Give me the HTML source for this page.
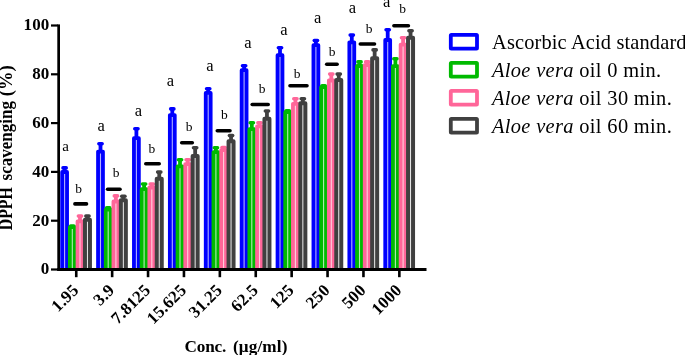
<!DOCTYPE html>
<html><head><meta charset="utf-8"><title>DPPH scavenging</title>
<style>
html,body{margin:0;padding:0;background:#fff;}
body{width:685px;height:355px;overflow:hidden;}
svg{display:block;will-change:transform;}
text{font-family:"Liberation Serif","Times New Roman",serif;fill:#000;}
.tk{font-weight:bold;font-size:17px;letter-spacing:0.15px;}
.ti{font-weight:bold;font-size:17.8px;}
.lt{}
.lg{font-size:20.4px;letter-spacing:0.35px;}
</style></head><body>
<svg width="685" height="355" viewBox="0 0 685 355">
<rect width="685" height="355" fill="#fff"/>
<clipPath id="cp"><rect x="0" y="0" width="685" height="269.5"/></clipPath><g clip-path="url(#cp)">
<line x1="64.60" y1="167.90" x2="64.60" y2="172.10" stroke="#0000ff" stroke-width="3.8"/>
<line x1="63.00" y1="167.90" x2="66.20" y2="167.90" stroke="#0000ff" stroke-width="3.6" stroke-linecap="round"/>
<rect x="62.15" y="172.00" width="4.90" height="99.40" fill="#b0b0ff" stroke="#0000ff" stroke-width="3.8" stroke-linejoin="round"/>
<line x1="72.30" y1="226.00" x2="72.30" y2="227.30" stroke="#00ba00" stroke-width="3.8"/>
<line x1="70.70" y1="226.00" x2="73.90" y2="226.00" stroke="#00ba00" stroke-width="3.6" stroke-linecap="round"/>
<rect x="69.85" y="227.20" width="4.90" height="44.20" fill="#b4eab4" stroke="#00ba00" stroke-width="3.8" stroke-linejoin="round"/>
<line x1="80.00" y1="216.10" x2="80.00" y2="221.40" stroke="#ff6699" stroke-width="3.8"/>
<line x1="78.40" y1="216.10" x2="81.60" y2="216.10" stroke="#ff6699" stroke-width="3.6" stroke-linecap="round"/>
<rect x="77.55" y="221.30" width="4.90" height="50.10" fill="#ffd0de" stroke="#ff6699" stroke-width="3.8" stroke-linejoin="round"/>
<line x1="87.45" y1="216.10" x2="87.45" y2="219.70" stroke="#404040" stroke-width="3.8"/>
<line x1="85.85" y1="216.10" x2="89.05" y2="216.10" stroke="#404040" stroke-width="3.6" stroke-linecap="round"/>
<rect x="84.95" y="219.70" width="5.00" height="51.80" fill="#ececec" stroke="#404040" stroke-width="4.0" stroke-linejoin="round"/>
<line x1="100.50" y1="143.80" x2="100.50" y2="151.70" stroke="#0000ff" stroke-width="3.8"/>
<line x1="98.90" y1="143.80" x2="102.10" y2="143.80" stroke="#0000ff" stroke-width="3.6" stroke-linecap="round"/>
<rect x="98.05" y="151.60" width="4.90" height="119.80" fill="#b0b0ff" stroke="#0000ff" stroke-width="3.8" stroke-linejoin="round"/>
<line x1="108.20" y1="207.90" x2="108.20" y2="209.80" stroke="#00ba00" stroke-width="3.8"/>
<line x1="106.60" y1="207.90" x2="109.80" y2="207.90" stroke="#00ba00" stroke-width="3.6" stroke-linecap="round"/>
<rect x="105.75" y="209.70" width="4.90" height="61.70" fill="#b4eab4" stroke="#00ba00" stroke-width="3.8" stroke-linejoin="round"/>
<line x1="115.90" y1="195.90" x2="115.90" y2="201.60" stroke="#ff6699" stroke-width="3.8"/>
<line x1="114.30" y1="195.90" x2="117.50" y2="195.90" stroke="#ff6699" stroke-width="3.6" stroke-linecap="round"/>
<rect x="113.45" y="201.50" width="4.90" height="69.90" fill="#ffd0de" stroke="#ff6699" stroke-width="3.8" stroke-linejoin="round"/>
<line x1="123.35" y1="196.30" x2="123.35" y2="200.30" stroke="#404040" stroke-width="3.8"/>
<line x1="121.75" y1="196.30" x2="124.95" y2="196.30" stroke="#404040" stroke-width="3.6" stroke-linecap="round"/>
<rect x="120.85" y="200.30" width="5.00" height="71.20" fill="#ececec" stroke="#404040" stroke-width="4.0" stroke-linejoin="round"/>
<line x1="136.40" y1="128.80" x2="136.40" y2="138.30" stroke="#0000ff" stroke-width="3.8"/>
<line x1="134.80" y1="128.80" x2="138.00" y2="128.80" stroke="#0000ff" stroke-width="3.6" stroke-linecap="round"/>
<rect x="133.95" y="138.20" width="4.90" height="133.20" fill="#b0b0ff" stroke="#0000ff" stroke-width="3.8" stroke-linejoin="round"/>
<line x1="144.10" y1="184.00" x2="144.10" y2="189.30" stroke="#00ba00" stroke-width="3.8"/>
<line x1="142.50" y1="184.00" x2="145.70" y2="184.00" stroke="#00ba00" stroke-width="3.6" stroke-linecap="round"/>
<rect x="141.65" y="189.20" width="4.90" height="82.20" fill="#b4eab4" stroke="#00ba00" stroke-width="3.8" stroke-linejoin="round"/>
<line x1="151.80" y1="184.00" x2="151.80" y2="187.60" stroke="#ff6699" stroke-width="3.8"/>
<line x1="150.20" y1="184.00" x2="153.40" y2="184.00" stroke="#ff6699" stroke-width="3.6" stroke-linecap="round"/>
<rect x="149.35" y="187.50" width="4.90" height="83.90" fill="#ffd0de" stroke="#ff6699" stroke-width="3.8" stroke-linejoin="round"/>
<line x1="159.25" y1="172.10" x2="159.25" y2="178.80" stroke="#404040" stroke-width="3.8"/>
<line x1="157.65" y1="172.10" x2="160.85" y2="172.10" stroke="#404040" stroke-width="3.6" stroke-linecap="round"/>
<rect x="156.75" y="178.80" width="5.00" height="92.70" fill="#ececec" stroke="#404040" stroke-width="4.0" stroke-linejoin="round"/>
<line x1="172.30" y1="108.90" x2="172.30" y2="115.20" stroke="#0000ff" stroke-width="3.8"/>
<line x1="170.70" y1="108.90" x2="173.90" y2="108.90" stroke="#0000ff" stroke-width="3.6" stroke-linecap="round"/>
<rect x="169.85" y="115.10" width="4.90" height="156.30" fill="#b0b0ff" stroke="#0000ff" stroke-width="3.8" stroke-linejoin="round"/>
<line x1="180.00" y1="159.80" x2="180.00" y2="166.50" stroke="#00ba00" stroke-width="3.8"/>
<line x1="178.40" y1="159.80" x2="181.60" y2="159.80" stroke="#00ba00" stroke-width="3.6" stroke-linecap="round"/>
<rect x="177.55" y="166.40" width="4.90" height="105.00" fill="#b4eab4" stroke="#00ba00" stroke-width="3.8" stroke-linejoin="round"/>
<line x1="187.70" y1="159.80" x2="187.70" y2="164.20" stroke="#ff6699" stroke-width="3.8"/>
<line x1="186.10" y1="159.80" x2="189.30" y2="159.80" stroke="#ff6699" stroke-width="3.6" stroke-linecap="round"/>
<rect x="185.25" y="164.10" width="4.90" height="107.30" fill="#ffd0de" stroke="#ff6699" stroke-width="3.8" stroke-linejoin="round"/>
<line x1="195.15" y1="147.80" x2="195.15" y2="155.90" stroke="#404040" stroke-width="3.8"/>
<line x1="193.55" y1="147.80" x2="196.75" y2="147.80" stroke="#404040" stroke-width="3.6" stroke-linecap="round"/>
<rect x="192.65" y="155.90" width="5.00" height="115.60" fill="#ececec" stroke="#404040" stroke-width="4.0" stroke-linejoin="round"/>
<line x1="208.20" y1="88.80" x2="208.20" y2="93.00" stroke="#0000ff" stroke-width="3.8"/>
<line x1="206.60" y1="88.80" x2="209.80" y2="88.80" stroke="#0000ff" stroke-width="3.6" stroke-linecap="round"/>
<rect x="205.75" y="92.90" width="4.90" height="178.50" fill="#b0b0ff" stroke="#0000ff" stroke-width="3.8" stroke-linejoin="round"/>
<line x1="215.90" y1="147.80" x2="215.90" y2="152.30" stroke="#00ba00" stroke-width="3.8"/>
<line x1="214.30" y1="147.80" x2="217.50" y2="147.80" stroke="#00ba00" stroke-width="3.6" stroke-linecap="round"/>
<rect x="213.45" y="152.20" width="4.90" height="119.20" fill="#b4eab4" stroke="#00ba00" stroke-width="3.8" stroke-linejoin="round"/>
<line x1="223.60" y1="147.50" x2="223.60" y2="150.30" stroke="#ff6699" stroke-width="3.8"/>
<line x1="222.00" y1="147.50" x2="225.20" y2="147.50" stroke="#ff6699" stroke-width="3.6" stroke-linecap="round"/>
<rect x="221.15" y="150.20" width="4.90" height="121.20" fill="#ffd0de" stroke="#ff6699" stroke-width="3.8" stroke-linejoin="round"/>
<line x1="231.05" y1="135.60" x2="231.05" y2="141.30" stroke="#404040" stroke-width="3.8"/>
<line x1="229.45" y1="135.60" x2="232.65" y2="135.60" stroke="#404040" stroke-width="3.6" stroke-linecap="round"/>
<rect x="228.55" y="141.30" width="5.00" height="130.20" fill="#ececec" stroke="#404040" stroke-width="4.0" stroke-linejoin="round"/>
<line x1="244.10" y1="65.80" x2="244.10" y2="70.30" stroke="#0000ff" stroke-width="3.8"/>
<line x1="242.50" y1="65.80" x2="245.70" y2="65.80" stroke="#0000ff" stroke-width="3.6" stroke-linecap="round"/>
<rect x="241.65" y="70.20" width="4.90" height="201.20" fill="#b0b0ff" stroke="#0000ff" stroke-width="3.8" stroke-linejoin="round"/>
<line x1="251.80" y1="122.80" x2="251.80" y2="129.30" stroke="#00ba00" stroke-width="3.8"/>
<line x1="250.20" y1="122.80" x2="253.40" y2="122.80" stroke="#00ba00" stroke-width="3.6" stroke-linecap="round"/>
<rect x="249.35" y="129.20" width="4.90" height="142.20" fill="#b4eab4" stroke="#00ba00" stroke-width="3.8" stroke-linejoin="round"/>
<line x1="259.50" y1="122.80" x2="259.50" y2="126.50" stroke="#ff6699" stroke-width="3.8"/>
<line x1="257.90" y1="122.80" x2="261.10" y2="122.80" stroke="#ff6699" stroke-width="3.6" stroke-linecap="round"/>
<rect x="257.05" y="126.40" width="4.90" height="145.00" fill="#ffd0de" stroke="#ff6699" stroke-width="3.8" stroke-linejoin="round"/>
<line x1="266.95" y1="111.00" x2="266.95" y2="118.80" stroke="#404040" stroke-width="3.8"/>
<line x1="265.35" y1="111.00" x2="268.55" y2="111.00" stroke="#404040" stroke-width="3.6" stroke-linecap="round"/>
<rect x="264.45" y="118.80" width="5.00" height="152.70" fill="#ececec" stroke="#404040" stroke-width="4.0" stroke-linejoin="round"/>
<line x1="280.00" y1="47.80" x2="280.00" y2="55.30" stroke="#0000ff" stroke-width="3.8"/>
<line x1="278.40" y1="47.80" x2="281.60" y2="47.80" stroke="#0000ff" stroke-width="3.6" stroke-linecap="round"/>
<rect x="277.55" y="55.20" width="4.90" height="216.20" fill="#b0b0ff" stroke="#0000ff" stroke-width="3.8" stroke-linejoin="round"/>
<line x1="287.70" y1="110.80" x2="287.70" y2="112.30" stroke="#00ba00" stroke-width="3.8"/>
<line x1="286.10" y1="110.80" x2="289.30" y2="110.80" stroke="#00ba00" stroke-width="3.6" stroke-linecap="round"/>
<rect x="285.25" y="112.20" width="4.90" height="159.20" fill="#b4eab4" stroke="#00ba00" stroke-width="3.8" stroke-linejoin="round"/>
<line x1="295.40" y1="98.80" x2="295.40" y2="103.90" stroke="#ff6699" stroke-width="3.8"/>
<line x1="293.80" y1="98.80" x2="297.00" y2="98.80" stroke="#ff6699" stroke-width="3.6" stroke-linecap="round"/>
<rect x="292.95" y="103.80" width="4.90" height="167.60" fill="#ffd0de" stroke="#ff6699" stroke-width="3.8" stroke-linejoin="round"/>
<line x1="302.85" y1="98.80" x2="302.85" y2="103.20" stroke="#404040" stroke-width="3.8"/>
<line x1="301.25" y1="98.80" x2="304.45" y2="98.80" stroke="#404040" stroke-width="3.6" stroke-linecap="round"/>
<rect x="300.35" y="103.20" width="5.00" height="168.30" fill="#ececec" stroke="#404040" stroke-width="4.0" stroke-linejoin="round"/>
<line x1="315.90" y1="40.60" x2="315.90" y2="45.30" stroke="#0000ff" stroke-width="3.8"/>
<line x1="314.30" y1="40.60" x2="317.50" y2="40.60" stroke="#0000ff" stroke-width="3.6" stroke-linecap="round"/>
<rect x="313.45" y="45.20" width="4.90" height="226.20" fill="#b0b0ff" stroke="#0000ff" stroke-width="3.8" stroke-linejoin="round"/>
<line x1="323.60" y1="85.80" x2="323.60" y2="87.30" stroke="#00ba00" stroke-width="3.8"/>
<line x1="322.00" y1="85.80" x2="325.20" y2="85.80" stroke="#00ba00" stroke-width="3.6" stroke-linecap="round"/>
<rect x="321.15" y="87.20" width="4.90" height="184.20" fill="#b4eab4" stroke="#00ba00" stroke-width="3.8" stroke-linejoin="round"/>
<line x1="331.30" y1="74.10" x2="331.30" y2="80.60" stroke="#ff6699" stroke-width="3.8"/>
<line x1="329.70" y1="74.10" x2="332.90" y2="74.10" stroke="#ff6699" stroke-width="3.6" stroke-linecap="round"/>
<rect x="328.85" y="80.50" width="4.90" height="190.90" fill="#ffd0de" stroke="#ff6699" stroke-width="3.8" stroke-linejoin="round"/>
<line x1="338.75" y1="74.10" x2="338.75" y2="80.00" stroke="#404040" stroke-width="3.8"/>
<line x1="337.15" y1="74.10" x2="340.35" y2="74.10" stroke="#404040" stroke-width="3.6" stroke-linecap="round"/>
<rect x="336.25" y="80.00" width="5.00" height="191.50" fill="#ececec" stroke="#404040" stroke-width="4.0" stroke-linejoin="round"/>
<line x1="351.80" y1="35.10" x2="351.80" y2="42.40" stroke="#0000ff" stroke-width="3.8"/>
<line x1="350.20" y1="35.10" x2="353.40" y2="35.10" stroke="#0000ff" stroke-width="3.6" stroke-linecap="round"/>
<rect x="349.35" y="42.30" width="4.90" height="229.10" fill="#b0b0ff" stroke="#0000ff" stroke-width="3.8" stroke-linejoin="round"/>
<line x1="359.50" y1="61.90" x2="359.50" y2="66.10" stroke="#00ba00" stroke-width="3.8"/>
<line x1="357.90" y1="61.90" x2="361.10" y2="61.90" stroke="#00ba00" stroke-width="3.6" stroke-linecap="round"/>
<rect x="357.05" y="66.00" width="4.90" height="205.40" fill="#b4eab4" stroke="#00ba00" stroke-width="3.8" stroke-linejoin="round"/>
<line x1="367.20" y1="61.90" x2="367.20" y2="65.30" stroke="#ff6699" stroke-width="3.8"/>
<line x1="365.60" y1="61.90" x2="368.80" y2="61.90" stroke="#ff6699" stroke-width="3.6" stroke-linecap="round"/>
<rect x="364.75" y="65.20" width="4.90" height="206.20" fill="#ffd0de" stroke="#ff6699" stroke-width="3.8" stroke-linejoin="round"/>
<line x1="374.65" y1="49.90" x2="374.65" y2="58.20" stroke="#404040" stroke-width="3.8"/>
<line x1="373.05" y1="49.90" x2="376.25" y2="49.90" stroke="#404040" stroke-width="3.6" stroke-linecap="round"/>
<rect x="372.15" y="58.20" width="5.00" height="213.30" fill="#ececec" stroke="#404040" stroke-width="4.0" stroke-linejoin="round"/>
<line x1="387.70" y1="29.80" x2="387.70" y2="40.10" stroke="#0000ff" stroke-width="3.8"/>
<line x1="386.10" y1="29.80" x2="389.30" y2="29.80" stroke="#0000ff" stroke-width="3.6" stroke-linecap="round"/>
<rect x="385.25" y="40.00" width="4.90" height="231.40" fill="#b0b0ff" stroke="#0000ff" stroke-width="3.8" stroke-linejoin="round"/>
<line x1="395.40" y1="58.70" x2="395.40" y2="66.30" stroke="#00ba00" stroke-width="3.8"/>
<line x1="393.80" y1="58.70" x2="397.00" y2="58.70" stroke="#00ba00" stroke-width="3.6" stroke-linecap="round"/>
<rect x="392.95" y="66.20" width="4.90" height="205.20" fill="#b4eab4" stroke="#00ba00" stroke-width="3.8" stroke-linejoin="round"/>
<line x1="403.10" y1="37.80" x2="403.10" y2="44.70" stroke="#ff6699" stroke-width="3.8"/>
<line x1="401.50" y1="37.80" x2="404.70" y2="37.80" stroke="#ff6699" stroke-width="3.6" stroke-linecap="round"/>
<rect x="400.65" y="44.60" width="4.90" height="226.80" fill="#ffd0de" stroke="#ff6699" stroke-width="3.8" stroke-linejoin="round"/>
<line x1="410.55" y1="30.80" x2="410.55" y2="37.70" stroke="#404040" stroke-width="3.8"/>
<line x1="408.95" y1="30.80" x2="412.15" y2="30.80" stroke="#404040" stroke-width="3.6" stroke-linecap="round"/>
<rect x="408.05" y="37.70" width="5.00" height="233.80" fill="#ececec" stroke="#404040" stroke-width="4.0" stroke-linejoin="round"/>
</g>
<line x1="74.90" y1="203.90" x2="86.50" y2="203.90" stroke="#000" stroke-width="3.6" stroke-linecap="round"/>
<line x1="107.60" y1="189.20" x2="120.00" y2="189.20" stroke="#000" stroke-width="3.6" stroke-linecap="round"/>
<line x1="145.80" y1="163.80" x2="159.20" y2="163.80" stroke="#000" stroke-width="3.6" stroke-linecap="round"/>
<line x1="181.70" y1="142.80" x2="192.30" y2="142.80" stroke="#000" stroke-width="3.6" stroke-linecap="round"/>
<line x1="217.30" y1="130.80" x2="230.00" y2="130.80" stroke="#000" stroke-width="3.6" stroke-linecap="round"/>
<line x1="252.20" y1="104.50" x2="268.20" y2="104.50" stroke="#000" stroke-width="3.6" stroke-linecap="round"/>
<line x1="290.00" y1="85.70" x2="307.00" y2="85.70" stroke="#000" stroke-width="3.6" stroke-linecap="round"/>
<line x1="326.70" y1="64.20" x2="337.10" y2="64.20" stroke="#000" stroke-width="3.6" stroke-linecap="round"/>
<line x1="360.30" y1="44.00" x2="374.50" y2="44.00" stroke="#000" stroke-width="3.6" stroke-linecap="round"/>
<line x1="393.90" y1="25.80" x2="408.40" y2="25.80" stroke="#000" stroke-width="3.6" stroke-linecap="round"/>
<rect x="57.3" y="24.4" width="2.7" height="246.6" fill="#000"/>
<rect x="57.3" y="268" width="369.2" height="3" fill="#000"/>
<rect x="51" y="268.40" width="7" height="2.2" fill="#000"/>
<text x="49.5" y="274.30" text-anchor="end" class="tk">0</text>
<rect x="51" y="219.60" width="7" height="2.2" fill="#000"/>
<text x="49.5" y="225.50" text-anchor="end" class="tk">20</text>
<rect x="51" y="170.80" width="7" height="2.2" fill="#000"/>
<text x="49.5" y="176.70" text-anchor="end" class="tk">40</text>
<rect x="51" y="122.00" width="7" height="2.2" fill="#000"/>
<text x="49.5" y="127.90" text-anchor="end" class="tk">60</text>
<rect x="51" y="73.20" width="7" height="2.2" fill="#000"/>
<text x="49.5" y="79.10" text-anchor="end" class="tk">80</text>
<rect x="51" y="24.40" width="7" height="2.2" fill="#000"/>
<text x="49.5" y="30.30" text-anchor="end" class="tk">100</text>
<rect x="74.95" y="270" width="2.6" height="7.2" fill="#000"/>
<text transform="translate(79.55,291.20) rotate(-45)" text-anchor="end" class="tk">1.95</text>
<rect x="110.85" y="270" width="2.6" height="7.2" fill="#000"/>
<text transform="translate(115.45,291.20) rotate(-45)" text-anchor="end" class="tk">3.9</text>
<rect x="146.75" y="270" width="2.6" height="7.2" fill="#000"/>
<text transform="translate(151.35,291.20) rotate(-45)" text-anchor="end" class="tk">7.8125</text>
<rect x="182.65" y="270" width="2.6" height="7.2" fill="#000"/>
<text transform="translate(187.25,291.20) rotate(-45)" text-anchor="end" class="tk">15.625</text>
<rect x="218.55" y="270" width="2.6" height="7.2" fill="#000"/>
<text transform="translate(223.15,291.20) rotate(-45)" text-anchor="end" class="tk">31.25</text>
<rect x="254.45" y="270" width="2.6" height="7.2" fill="#000"/>
<text transform="translate(259.05,291.20) rotate(-45)" text-anchor="end" class="tk">62.5</text>
<rect x="290.35" y="270" width="2.6" height="7.2" fill="#000"/>
<text transform="translate(294.95,291.20) rotate(-45)" text-anchor="end" class="tk">125</text>
<rect x="326.25" y="270" width="2.6" height="7.2" fill="#000"/>
<text transform="translate(330.85,291.20) rotate(-45)" text-anchor="end" class="tk">250</text>
<rect x="362.15" y="270" width="2.6" height="7.2" fill="#000"/>
<text transform="translate(366.75,291.20) rotate(-45)" text-anchor="end" class="tk">500</text>
<rect x="398.05" y="270" width="2.6" height="7.2" fill="#000"/>
<text transform="translate(402.65,291.20) rotate(-45)" text-anchor="end" class="tk">1000</text>
<text x="65.50" y="151.20" text-anchor="middle" class="lt" font-size="15">a</text>
<text x="101.10" y="130.80" text-anchor="middle" class="lt" font-size="16.5">a</text>
<text x="138.40" y="115.50" text-anchor="middle" class="lt" font-size="16.5">a</text>
<text x="170.30" y="86.40" text-anchor="middle" class="lt" font-size="16.5">a</text>
<text x="210.00" y="71.20" text-anchor="middle" class="lt" font-size="16.5">a</text>
<text x="247.80" y="47.50" text-anchor="middle" class="lt" font-size="16.5">a</text>
<text x="284.00" y="35.40" text-anchor="middle" class="lt" font-size="16.5">a</text>
<text x="317.70" y="23.00" text-anchor="middle" class="lt" font-size="16.5">a</text>
<text x="352.50" y="13.10" text-anchor="middle" class="lt" font-size="16.5">a</text>
<text x="386.60" y="6.80" text-anchor="middle" class="lt" font-size="16.5">a</text>
<text x="78.70" y="193.30" text-anchor="middle" class="lt" font-size="13.5">b</text>
<text x="116.00" y="177.20" text-anchor="middle" class="lt" font-size="13.5">b</text>
<text x="151.90" y="152.70" text-anchor="middle" class="lt" font-size="13.5">b</text>
<text x="189.20" y="131.40" text-anchor="middle" class="lt" font-size="13.5">b</text>
<text x="224.40" y="119.10" text-anchor="middle" class="lt" font-size="13.5">b</text>
<text x="262.20" y="92.90" text-anchor="middle" class="lt" font-size="13.5">b</text>
<text x="297.10" y="78.00" text-anchor="middle" class="lt" font-size="13.5">b</text>
<text x="332.20" y="55.70" text-anchor="middle" class="lt" font-size="13.5">b</text>
<text x="369.20" y="32.70" text-anchor="middle" class="lt" font-size="13.5">b</text>
<text x="402.70" y="13.10" text-anchor="middle" class="lt" font-size="13.5">b</text>
<g transform="translate(12.1,0) rotate(-90)" class="ti"><text x="-230.3" y="0" textLength="43.2" lengthAdjust="spacingAndGlyphs">DPPH</text><text x="-180.4" y="0" textLength="79.4" lengthAdjust="spacingAndGlyphs">scavenging</text><text x="-96.3" y="0" textLength="31" lengthAdjust="spacingAndGlyphs">(%)</text></g>
<g class="ti" style="font-size:17.2px"><text x="184.6" y="351.8" textLength="41.6" lengthAdjust="spacing">Conc.</text><text x="232.9" y="351.8" textLength="54.6" lengthAdjust="spacing">(μg/ml)</text></g>
<rect x="450.8" y="34.80" width="26.2" height="13.8" rx="0.6" fill="#fff" stroke="#0000ff" stroke-width="3.8"/>
<text x="492" y="48.70" class="lg" style="letter-spacing:0.15px">Ascorbic Acid standard</text>
<rect x="450.8" y="62.80" width="26.2" height="13.8" rx="0.6" fill="#fff" stroke="#00ba00" stroke-width="3.8"/>
<text x="492" y="76.70" class="lg"><tspan font-style="italic">Aloe vera</tspan> oil 0 min.</text>
<rect x="450.8" y="90.80" width="26.2" height="13.8" rx="0.6" fill="#fff" stroke="#ff6699" stroke-width="3.8"/>
<text x="492" y="104.70" class="lg"><tspan font-style="italic">Aloe vera</tspan> oil 30 min.</text>
<rect x="450.8" y="118.80" width="26.2" height="13.8" rx="0.6" fill="#fff" stroke="#404040" stroke-width="3.8"/>
<text x="492" y="132.70" class="lg"><tspan font-style="italic">Aloe vera</tspan> oil 60 min.</text>
</svg>
</body></html>
